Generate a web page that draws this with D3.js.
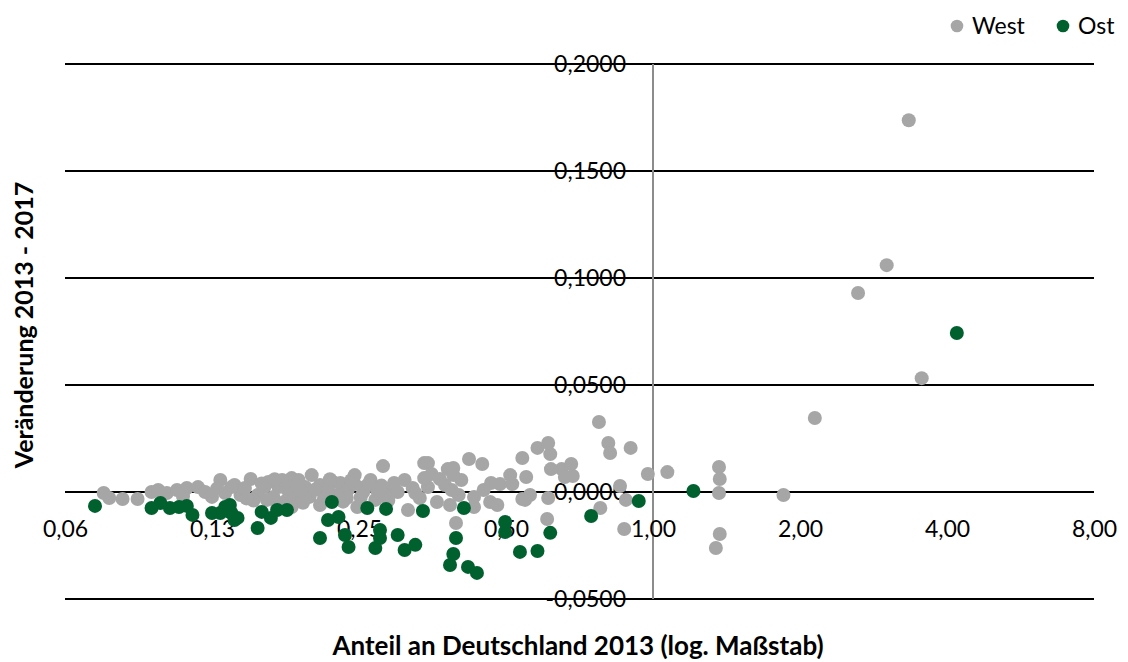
<!DOCTYPE html>
<html>
<head>
<meta charset="utf-8">
<script src="https://cdn.jsdelivr.net/npm/d3@7"></script>
<style>
  body { margin: 0; background: #fff; }
  svg { display: block; font-family: Lato, "Noto Sans", sans-serif; }
</style>
</head>
<body>
<svg id="chart" width="1128" height="662"></svg>
<script>
// ---- Data ----
const seriesNames = ["West", "Ost"];
const xTickValues = [0.0625, 0.125, 0.25, 0.5, 1, 2, 4, 8];
const xTickLabels = ["0,06", "0,13", "0,25", "0,50", "1,00", "2,00", "4,00", "8,00"];
const yTickValues = [-0.05, 0, 0.05, 0.1, 0.15, 0.2];
const yTickLabels = ["-0,0500", "0,0000", "0,0500", "0,1000", "0,1500", "0,2000"];

// West: [share 2013, change 2013-2017]
const westPoints = [
  [3.34, 0.1737], [3.01, 0.1060], [2.63, 0.0930], [3.55, 0.0532], [2.145, 0.0346], [1.85, -0.0014],
  [1.07, 0.0093], [1.365, 0.0117], [1.37, 0.0061], [1.365, -0.0005], [1.37, -0.0196], [1.345, -0.0262],
  [0.775, 0.0327], [0.81, 0.0229], [0.817, 0.0182], [0.90, 0.0206], [0.976, 0.0084], [0.856, 0.0028],
  [0.88, -0.0037], [0.78, -0.0075], [0.873, -0.0173],
  [0.58, 0.0206], [0.61, 0.0229], [0.616, 0.0177], [0.54, 0.0159], [0.618, 0.0107], [0.65, 0.0107],
  [0.68, 0.0131], [0.685, 0.0075], [0.66, 0.0070], [0.55, 0.0070], [0.56, -0.0014], [0.54, -0.0033],
  [0.61, -0.0028], [0.607, -0.0126],
  [0.42, 0.0154], [0.447, 0.0131], [0.34, 0.0135], [0.346, 0.0135], [0.28, 0.0121], [0.39, 0.0112],
  [0.38, 0.0107], [0.352, 0.0084], [0.39, 0.0079], [0.51, 0.0079], [0.466, 0.0042], [0.486, 0.0037],
  [0.515, 0.0037], [0.31, 0.0056], [0.295, 0.0042], [0.29, 0.0019], [0.30, 0.0], [0.346, 0.0023],
  [0.375, 0.0033], [0.387, 0.0009], [0.333, -0.0028], [0.361, -0.0047], [0.384, -0.0061], [0.43, -0.0023],
  [0.43, -0.0070], [0.464, -0.0047], [0.48, -0.0061], [0.547, -0.0037], [0.315, -0.0084], [0.395, -0.0145],
  [0.245, 0.0079], [0.264, 0.0056], [0.257, 0.0023], [0.15, 0.0061], [0.139, 0.0033], [0.182, 0.0065],
  [0.188, 0.0056], [0.20, 0.0079], [0.221, 0.0047], [0.229, 0.0042], [0.16, 0.0023], [0.171, 0.0023],
  [0.177, 0.0019], [0.194, 0.0023], [0.208, 0.0033], [0.237, 0.0009], [0.255, 0.0], [0.272, 0.0009],
  [0.143, -0.0014], [0.155, -0.0014], [0.167, -0.0023], [0.185, -0.0028], [0.198, -0.0023], [0.225, -0.0014],
  [0.236, -0.0028], [0.27, -0.0037], [0.182, -0.0070], [0.208, -0.0061], [0.248, -0.0070], [0.17, -0.0075],
  [0.075, -0.0005], [0.077, -0.0028], [0.082, -0.0033], [0.088, -0.0033], [0.094, 0.0], [0.097, 0.0009],
  [0.101, -0.0005], [0.106, 0.0009], [0.111, 0.0019], [0.117, 0.0023], [0.13, 0.0056], [0.121, 0.0],
  [0.137, 0.0023], [0.125, -0.0023],
  [0.133, -0.0005], [0.146, 0.0019], [0.163, 0.0047], [0.174, 0.0056], [0.19, 0.0005], [0.216, 0.0005],
  [0.245, 0.0037], [0.283, -0.0019], [0.322, 0.0019], [0.34, 0.0065], [0.405, 0.0056], [0.366, 0.0061],
  [0.326, -0.0005], [0.40, -0.0014], [0.45, 0.0009], [0.18, -0.0014], [0.162, -0.0037],
  [0.152, -0.0040], [0.158, 0.0040], [0.168, 0.0060], [0.176, -0.0045], [0.186, 0.0030], [0.192, -0.0050],
  [0.203, 0.0010], [0.212, -0.0030], [0.218, 0.0060], [0.232, -0.0045], [0.241, 0.0055], [0.252, -0.0025],
  [0.262, 0.0040], [0.278, 0.0030], [0.287, -0.0040], [0.147, -0.0030], [0.128, 0.0015], [0.109, -0.0020]
];

// Ost: [share 2013, change 2013-2017]
const ostPoints = [
  [4.19, 0.0743], [1.21, 0.0005], [0.935, -0.0042], [0.747, -0.0112], [0.616, -0.0191], [0.58, -0.0276],
  [0.534, -0.0280], [0.498, -0.0140], [0.498, -0.0187], [0.41, -0.0075], [0.395, -0.0215], [0.39, -0.0290],
  [0.384, -0.0341], [0.418, -0.0350], [0.436, -0.0378], [0.338, -0.0089], [0.284, -0.0079], [0.276, -0.0177],
  [0.276, -0.0215], [0.30, -0.0201], [0.31, -0.0271], [0.326, -0.0247], [0.26, -0.0075], [0.27, -0.0262],
  [0.238, -0.0257], [0.234, -0.0201], [0.208, -0.0215], [0.227, -0.0117], [0.216, -0.0131], [0.22, -0.0047],
  [0.178, -0.0084], [0.17, -0.0084], [0.165, -0.0121], [0.158, -0.0093], [0.155, -0.0168], [0.141, -0.0121],
  [0.136, -0.0093], [0.136, -0.0061], [0.139, -0.0131], [0.137, -0.0098], [0.133, -0.0070], [0.130, -0.0098],
  [0.125, -0.0098], [0.114, -0.0107], [0.111, -0.0065], [0.107, -0.0070], [0.1025, -0.0075], [0.098, -0.0051],
  [0.094, -0.0075], [0.072, -0.0065]
];

const colors = { West: "#a6a6a6", Ost: "#00612f" };

// ---- Chart ----
const svg = d3.select("#chart");
const x = d3.scaleLog().base(2).domain([0.0625, 8]).range([65, 1094]);
const y = d3.scaleLinear().domain([-0.05, 0.2]).range([599, 64]);

// gridlines
svg.append("g").selectAll("line").data(yTickValues).join("line")
  .attr("x1", x(0.0625)).attr("x2", x(8))
  .attr("y1", d => y(d)).attr("y2", d => y(d))
  .attr("stroke", "#000").attr("stroke-width", 2);

// vertical axis line at x = 1
svg.append("line")
  .attr("x1", x(1)).attr("x2", x(1))
  .attr("y1", y(0.2)).attr("y2", y(-0.05))
  .attr("stroke", "#8c8c8c").attr("stroke-width", 2);

// y axis labels
const yAxis = d3.axisLeft(y).tickValues(yTickValues)
  .tickFormat((d, i) => yTickLabels[i]).tickSize(0).tickPadding(27);
const gy = svg.append("g").attr("transform", `translate(${x(1)},0)`).call(yAxis);
gy.select(".domain").remove();
gy.selectAll("text").attr("font-size", 23).attr("fill", "#000")
  .attr("font-family", "Lato, 'Noto Sans', sans-serif");

// x axis labels
const xAxis = d3.axisBottom(x).tickValues(xTickValues)
  .tickFormat((d, i) => xTickLabels[i]).tickSize(0).tickPadding(29);
const gx = svg.append("g").attr("transform", `translate(0,${y(0)})`).call(xAxis);
gx.select(".domain").remove();
gx.selectAll("text").attr("font-size", 23).attr("fill", "#000")
  .attr("font-family", "Lato, 'Noto Sans', sans-serif");

// points
const r = 7;
svg.append("g").selectAll("circle").data(westPoints).join("circle")
  .attr("cx", d => x(d[0])).attr("cy", d => y(d[1])).attr("r", r)
  .attr("fill", colors.West);
svg.append("g").selectAll("circle").data(ostPoints).join("circle")
  .attr("cx", d => x(d[0])).attr("cy", d => y(d[1])).attr("r", r)
  .attr("fill", colors.Ost);

// axis titles
svg.append("text")
  .attr("x", 578).attr("y", 655)
  .attr("text-anchor", "middle").attr("font-weight", "bold").attr("font-size", 26)
  .text("Anteil an Deutschland 2013 (log. Maßstab)");
svg.append("text")
  .attr("transform", "translate(33,325) rotate(-90)")
  .attr("text-anchor", "middle").attr("font-weight", "bold").attr("font-size", 25)
  .text("Veränderung 2013 - 2017");

// legend
const legend = svg.append("g");
const legendItems = [
  { name: seriesNames[0], cx: 957, tx: 972 },
  { name: seriesNames[1], cx: 1063, tx: 1078 }
];
legend.selectAll("circle").data(legendItems).join("circle")
  .attr("cx", d => d.cx).attr("cy", 26).attr("r", 6.3)
  .attr("fill", d => colors[d.name]);
legend.selectAll("text").data(legendItems).join("text")
  .attr("x", d => d.tx).attr("y", 34).attr("font-size", 23)
  .text(d => d.name);
</script>
</body>
</html>
